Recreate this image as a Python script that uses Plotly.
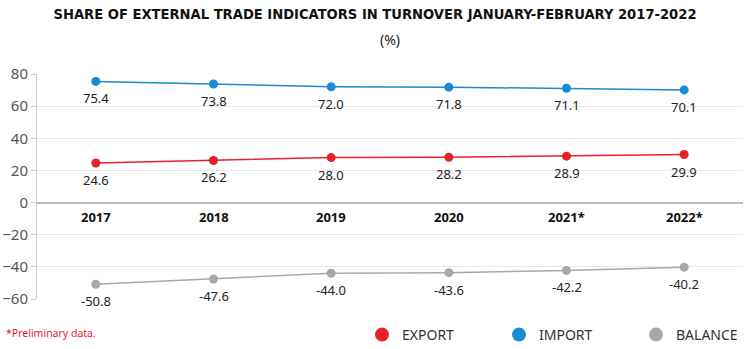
import plotly.graph_objects as go

years = ["2017", "2018", "2019", "2020", "2021*", "2022*"]
export_vals = [24.6, 26.2, 28.0, 28.2, 28.9, 29.9]
import_vals = [75.4, 73.8, 72.0, 71.8, 71.1, 70.1]
balance_vals = [-50.8, -47.6, -44.0, -43.6, -42.2, -40.2]
y_ticks = [-60, -40, -20, 0, 20, 40, 60, 80]

series = [
    ("EXPORT", export_vals, "#e8202a"),
    ("IMPORT", import_vals, "#1a8ad4"),
    ("BALANCE", balance_vals, "#a6a8ab"),
]

fig = go.Figure()
for name, vals, color in series:
    fig.add_trace(go.Scatter(
        x=years, y=vals, mode="lines+markers",
        line=dict(color=color, width=1.5),
        marker=dict(color=color, size=9),
        showlegend=False, cliponaxis=False, hoverinfo="skip",
    ))
    for i, v in enumerate(vals):
        fig.add_annotation(
            x=i, y=v, xref="x", yref="y", text=f"{v:.1f}",
            showarrow=False, yanchor="middle", yshift=-17,
            font=dict(family="Noto Sans", size=13, color="#222222"),
        )
for name, vals, color in series:
    fig.add_trace(go.Scatter(
        x=[None], y=[None], mode="markers", name=name,
        marker=dict(color=color, size=14),
    ))

for i, yr in enumerate(years):
    fig.add_annotation(
        x=i, y=0, xref="x", yref="y", text=f"<b>{yr}</b>",
        showarrow=False, yanchor="top", yshift=-3,
        font=dict(family="Noto Sans", size=13, color="#111111"),
    )

PH = 225.0
PW = 706.0
fig.add_annotation(
    x=0.5, xref="paper", y=1 + (74 - 40) / PH, yref="paper", yanchor="middle",
    text="(%)", showarrow=False,
    font=dict(family="Noto Sans", size=14, color="#222222"),
)
fig.add_annotation(
    x=-33 / PW, xref="paper", xanchor="left",
    y=-(333 - 299) / PH, yref="paper", yanchor="middle",
    text="*Preliminary data.", showarrow=False,
    font=dict(family="Noto Sans", size=10.5, color="#e8202a"),
)

fig.update_layout(
    width=750, height=349,
    margin=dict(l=37, r=7, t=74, b=50, autoexpand=False),
    paper_bgcolor="white", plot_bgcolor="white",
    title=dict(
        text="<b>SHARE OF EXTERNAL TRADE INDICATORS IN TURNOVER JANUARY-FEBRUARY 2017-2022</b>",
        x=0.5, xanchor="center", y=1 - 14 / 349, yanchor="middle",
        font=dict(family="DejaVu Sans Condensed", size=14.6, color="#111111"),
    ),
    legend=dict(
        orientation="h", x=(362 - 37) / PW, xanchor="left",
        y=-(335 - 299) / PH, yanchor="middle",
        font=dict(family="Noto Sans", size=14, color="#333333"),
        entrywidth=92, entrywidthmode="pixels", bgcolor="rgba(0,0,0,0)",
    ),
    xaxis=dict(
        type="category", range=[-0.5, 5.5], showticklabels=False,
        showgrid=False, zeroline=False, showline=False,
    ),
    yaxis=dict(
        range=[-60, 80], tickvals=y_ticks, showgrid=True, gridcolor="#e8e8e8",
        zeroline=True, zerolinecolor="#bbbbbb", zerolinewidth=1.5,
        showline=True, linecolor="#cccccc", linewidth=1,
        ticks="outside", ticklen=5, tickcolor="#cccccc",
        tickfont=dict(family="Noto Sans", size=15, color="#555555"),
    ),
)

fig.write_html("out.html")
